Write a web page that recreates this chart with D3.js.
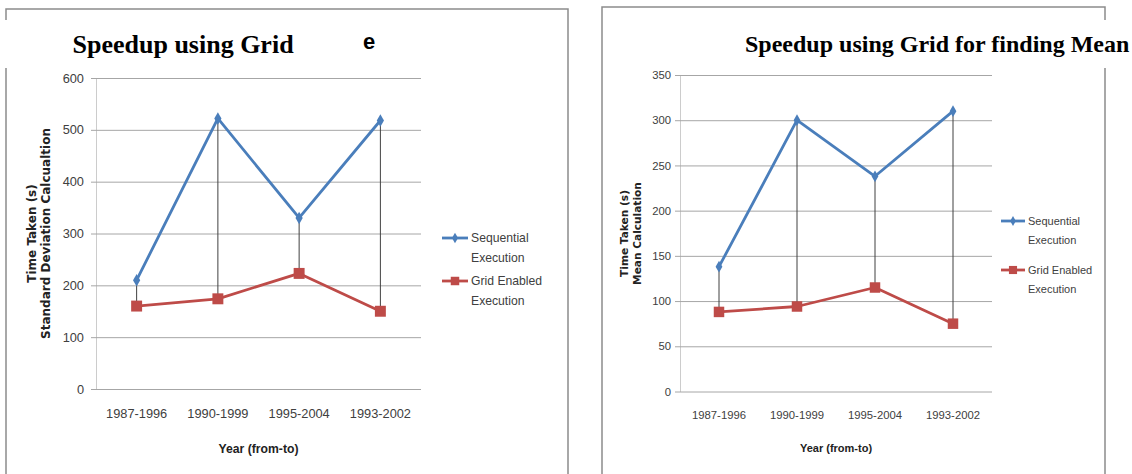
<!DOCTYPE html>
<html>
<head>
<meta charset="utf-8">
<script src="https://d3js.org/d3.v7.min.js"></script>
<style>
  body { margin: 0; background: #fff; }
</style>
</head>
<body>
<div id="chart"></div>
<script>
var years = ["1987-1996", "1990-1999", "1995-2004", "1993-2002"];

// standard deviation chart (left)
var sdSequential = [210, 522, 330, 518];
var sdGrid = [160, 174, 223, 150];
var sdTicks = [0, 100, 200, 300, 400, 500, 600];

// mean chart (right)
var meanSequential = [138, 300, 238, 310];
var meanGrid = [88, 94, 115, 75];
var meanTicks = [0, 50, 100, 150, 200, 250, 300, 350];

var seriesNames = [["Sequential", "Execution"], ["Grid Enabled", "Execution"]];

var SANS = "'Liberation Sans', Arial, sans-serif";
var SERIF = "'Liberation Serif', 'Times New Roman', serif";
var BLUE = "#4a7ebb";
var RED = "#be4b48";

var svg = d3.select("#chart").append("svg")
    .attr("width", 1132)
    .attr("height", 474);

function frame(xl, xr, yt) {
  svg.append("path")
    .attr("d", "M" + xl + ",480V" + yt + "H" + xr + "V480")
    .attr("fill", "none")
    .attr("stroke", "#8c8c8c")
    .attr("stroke-width", 1.5);
}

function drawPanel(p) {
  var x = d3.scaleBand().domain(years).range([p.left, p.right]);
  var y = d3.scaleLinear().domain([0, p.yMax]).range([p.bottom, p.top]);
  var cx = function(i) { return x(years[i]) + x.bandwidth() / 2; };
  var g = svg.append("g");

  // gridlines + y labels
  var ya = g.append("g")
    .attr("transform", "translate(" + p.left + ",0)")
    .call(d3.axisLeft(y).tickValues(p.ticks).tickSize(0).tickPadding(p.ypad));
  ya.attr("font-family", SANS).attr("font-size", p.fs);
  ya.select(".domain").attr("stroke", "#cccccc");
  ya.selectAll(".tick line")
    .attr("x1", -5)
    .attr("x2", p.right - p.left)
    .attr("stroke", "#a6a6a6");
  ya.selectAll(".tick text").attr("fill", "#404040");

  // category labels
  var xa = g.append("g")
    .attr("transform", "translate(0," + p.bottom + ")")
    .call(d3.axisBottom(x).tickSize(0).tickPadding(p.xpad));
  xa.attr("font-family", SANS).attr("font-size", p.fs);
  xa.select(".domain").remove();
  xa.selectAll(".tick text").attr("fill", "#404040");

  // high-low lines
  g.selectAll(".hl").data(years).join("line")
    .attr("x1", function(d, i) { return cx(i); })
    .attr("x2", function(d, i) { return cx(i); })
    .attr("y1", function(d, i) { return y(p.seq[i]); })
    .attr("y2", function(d, i) { return y(p.grid[i]); })
    .attr("stroke", "#404040")
    .attr("stroke-width", 1);

  var line = d3.line().x(function(d, i) { return cx(i); }).y(function(d) { return y(d); });

  [[p.seq, BLUE, d3.symbolDiamond, p.dSize], [p.grid, RED, d3.symbolSquare, p.sSize]].forEach(function(s) {
    g.append("path")
      .datum(s[0])
      .attr("d", line)
      .attr("fill", "none")
      .attr("stroke", s[1])
      .attr("stroke-width", 2.8)
      .attr("stroke-linejoin", "round");
    g.selectAll(null).data(s[0]).join("path")
      .attr("transform", function(d, i) { return "translate(" + cx(i) + "," + y(d) + ")"; })
      .attr("d", d3.symbol().type(s[2]).size(s[3]))
      .attr("fill", s[1]);
  });

  // axis titles
  g.append("text")
    .attr("x", (p.left + p.right) / 2)
    .attr("y", p.xTitleY)
    .attr("text-anchor", "middle")
    .attr("font-family", SANS)
    .attr("font-weight", "bold")
    .attr("font-size", p.xTitleSize)
    .attr("fill", "#222")
    .text("Year (from-to)");

  p.yTitle.forEach(function(t, i) {
    g.append("text")
      .attr("transform", "translate(" + p.yTitleX[i] + "," + p.yTitleMid + ") rotate(-90)")
      .attr("text-anchor", "middle")
      .attr("font-family", "'DejaVu Sans', sans-serif")
      .attr("font-weight", "bold")
      .attr("font-size", p.yTitleSize)
      .attr("fill", "#222")
      .text(t);
  });

  // legend
  [[BLUE, d3.symbolDiamond, p.dSize * 0.7], [RED, d3.symbolSquare, p.sSize * 0.6]].forEach(function(s, i) {
    var ly = p.legY[i];
    var lg = g.append("g");
    lg.append("line")
      .attr("x1", p.legX).attr("x2", p.legX + p.legW)
      .attr("y1", ly).attr("y2", ly)
      .attr("stroke", s[0]).attr("stroke-width", 2.8);
    lg.append("path")
      .attr("transform", "translate(" + (p.legX + p.legW / 2) + "," + ly + ")")
      .attr("d", d3.symbol().type(s[1]).size(s[2]))
      .attr("fill", s[0]);
    seriesNames[i].forEach(function(t, j) {
      lg.append("text")
        .attr("x", p.legX + p.legW + 3)
        .attr("y", ly + j * 19.5)
        .attr("dy", "0.35em")
        .attr("font-family", SANS)
        .attr("font-size", p.legFs)
        .attr("fill", "#404040")
        .text(t);
    });
  });
}

frame(6, 568, 9);
frame(602, 1105, 7);

drawPanel({
  seq: sdSequential, grid: sdGrid, ticks: sdTicks, yMax: 600,
  left: 96, right: 421, top: 78, bottom: 389,
  ypad: 12, xpad: 20, fs: 12.8, dSize: 45, sSize: 120,
  xTitleY: 453, xTitleSize: 12.2, yTitle: ["Time Taken (s)", "Standard Deviation Calcualtion"],
  yTitleX: [36, 50], yTitleMid: 233.5, yTitleSize: 12,
  legX: 442, legW: 26, legY: [238, 281], legFs: 12.2
});

drawPanel({
  seq: meanSequential, grid: meanGrid, ticks: meanTicks, yMax: 350,
  left: 680, right: 992, top: 75, bottom: 391.5,
  ypad: 9, xpad: 19, fs: 11.3, dSize: 40, sSize: 110,
  xTitleY: 452, xTitleSize: 11, yTitle: ["Time Taken (s)", "Mean Calculation"],
  yTitleX: [628, 641], yTitleMid: 233.5, yTitleSize: 10.6,
  legX: 1001, legW: 24, legY: [221, 270], legFs: 11
});

// title boxes sit over the frames
svg.append("rect").attr("x", 0).attr("y", 20).attr("width", 355).attr("height", 48).attr("fill", "#fff");
svg.append("rect").attr("x", 700).attr("y", 20).attr("width", 432).attr("height", 48).attr("fill", "#fff");

svg.append("text")
  .attr("x", 72.5).attr("y", 53)
  .attr("font-family", SERIF).attr("font-weight", "bold").attr("font-size", 26)
  .text("Speedup using Grid");
svg.append("text")
  .attr("x", 363).attr("y", 49)
  .attr("font-family", SANS).attr("font-weight", "bold").attr("font-size", 22)
  .text("e");
svg.append("text")
  .attr("x", 745).attr("y", 51.5)
  .attr("font-family", SERIF).attr("font-weight", "bold").attr("font-size", 24)
  .text("Speedup using Grid for finding Mean");
</script>
</body>
</html>
